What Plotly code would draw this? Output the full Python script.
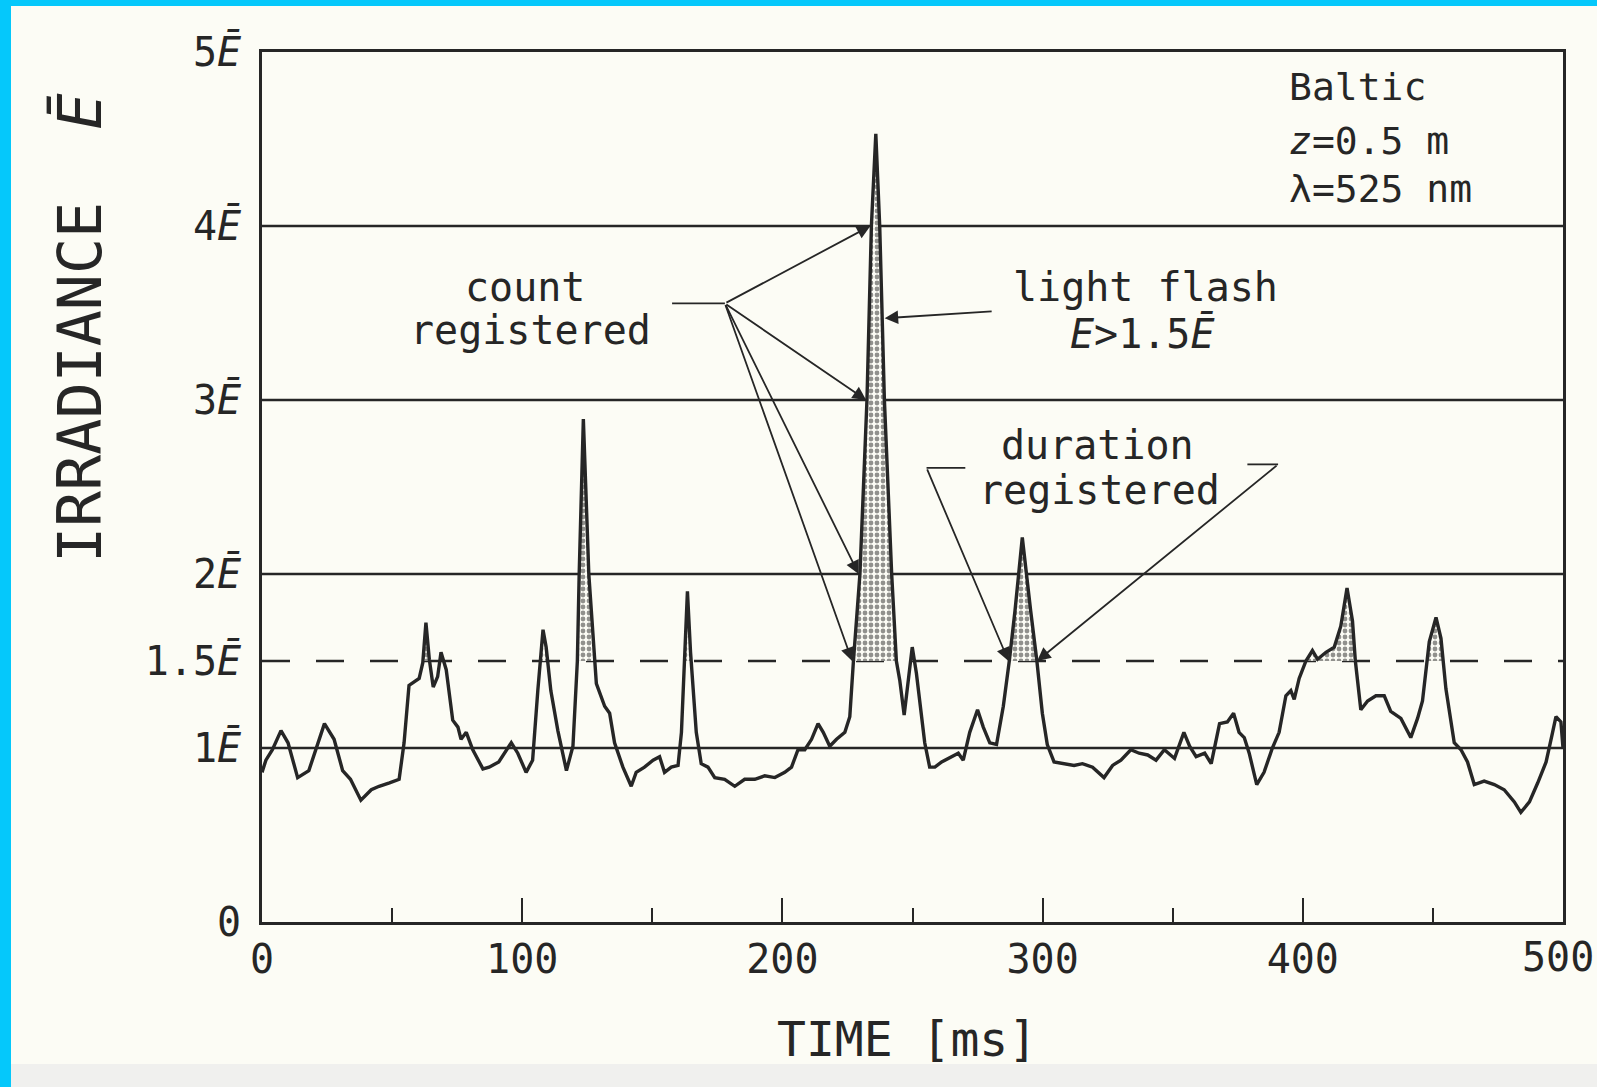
import numpy as np
import plotly.graph_objects as go

# Irradiance record (time in ms, irradiance in units of mean E)
time_ms = [0, 1.5, 4, 7.3, 10, 13.7, 18, 20.8, 24, 27.7, 31, 34, 38, 42, 45, 49, 52.7,
           54.6, 56.5, 60.4, 61.8, 63, 64.3, 65.8, 67.5, 68.8, 70.8, 73.3, 75.3, 76.5,
           78.5, 81, 84.9, 87.3, 91, 95.8, 98.3, 101.5, 104, 106, 108, 109.2, 111, 113.7,
           117, 119.5, 121.2, 121.9, 123.5, 125.6, 127.8, 128.5, 131.7, 133.6, 135.5,
           138.7, 141.9, 143.8, 147, 150.3, 152.8, 154.7, 157.3, 159.9, 161.2, 162.4,
           163.5, 164.7, 166.9, 168.8, 171.4, 174, 177.8, 181.7, 185.5, 189.4, 193.2,
           197.1, 200.9, 203.5, 206, 208.6, 211.2, 213.7, 215.7, 218.2, 220.8, 224,
           225.9, 227.3, 229.8, 232.5, 234.2, 235.9, 237.4, 239.2, 242, 243.8, 245.1,
           246.8, 248.3, 249.9, 251.5, 254.7, 256.6, 258.6, 261.2, 265, 267.6, 269.5,
           272, 275, 277.2, 279.7, 282.3, 284.9, 287.2, 289.4, 292.2, 295.4, 297.8,
           299.9, 301.8, 304.4, 308.2, 312.1, 315.3, 319.2, 323.6, 326.9, 330.1, 333.9,
           337.1, 340.4, 343.6, 346.8, 350.7, 354.3, 356.5, 359, 362.3, 364.8, 368, 371,
           373.4, 375.5, 377.5, 379.4, 382.3, 385.1, 388.3, 390.9, 393.5, 395.4, 396.7,
           398.6, 401.2, 403.7, 405.7, 408.9, 412.1, 414.6, 417, 419.1, 420.2, 421.1,
           422.3, 424.9, 428.1, 431.3, 433.8, 437.7, 441.5, 444.1, 446, 448.6, 451.2,
           453.1, 455, 458.2, 460.8, 463.3, 465.9, 469.7, 473.6, 477.4, 481.3, 483.8,
           487.1, 490.3, 493.5, 496, 497.3, 499.2, 500]
irradiance = [0.86, 0.93, 0.99, 1.10, 1.03, 0.83, 0.87, 0.99, 1.14, 1.05, 0.87, 0.82, 0.70,
              0.76, 0.78, 0.80, 0.82, 1.03, 1.36, 1.40, 1.49, 1.72, 1.51, 1.35, 1.41, 1.55,
              1.45, 1.16, 1.12, 1.05, 1.09, 0.99, 0.88, 0.89, 0.92, 1.03, 0.97, 0.86, 0.93,
              1.33, 1.68, 1.58, 1.33, 1.10, 0.87, 1.01, 1.5, 2.0, 2.89, 2.0, 1.5, 1.37, 1.24,
              1.20, 1.03, 0.89, 0.78, 0.86, 0.89, 0.93, 0.95, 0.86, 0.89, 0.90, 1.09, 1.55,
              1.90, 1.55, 1.09, 0.91, 0.89, 0.83, 0.82, 0.78, 0.82, 0.82, 0.84, 0.83, 0.86,
              0.89, 0.99, 0.99, 1.05, 1.14, 1.09, 1.01, 1.05, 1.09, 1.18, 1.5, 2.0, 3.0, 4.0,
              4.53, 4.0, 3.0, 2.0, 1.5, 1.39, 1.19, 1.39, 1.58, 1.43, 1.03, 0.89, 0.89, 0.92,
              0.95, 0.97, 0.93, 1.09, 1.22, 1.12, 1.03, 1.02, 1.24, 1.5, 1.79, 2.21, 1.79,
              1.5, 1.20, 1.02, 0.92, 0.91, 0.90, 0.91, 0.89, 0.83, 0.90, 0.93, 0.99, 0.97,
              0.96, 0.93, 0.99, 0.94, 1.09, 1.01, 0.95, 0.97, 0.91, 1.14, 1.15, 1.20, 1.09,
              1.06, 0.97, 0.79, 0.86, 1.0, 1.09, 1.30, 1.33, 1.28, 1.40, 1.50, 1.56, 1.51,
              1.55, 1.58, 1.70, 1.92, 1.73, 1.50, 1.36, 1.22, 1.27, 1.30, 1.30, 1.21, 1.17,
              1.06, 1.17, 1.27, 1.61, 1.75, 1.63, 1.34, 1.03, 0.99, 0.92, 0.79, 0.81, 0.79,
              0.76, 0.69, 0.63, 0.69, 0.80, 0.92, 1.09, 1.18, 1.15, 1.0]

flash_threshold = 1.5
reference_levels = [1, 2, 3, 4]
ytick_vals = [0, 1, 1.5, 2, 3, 4, 5]
ytick_text = ["0", "1<i>Ē</i>", "1.5<i>Ē</i>", "2<i>Ē</i>", "3<i>Ē</i>", "4<i>Ē</i>", "5<i>Ē</i>"]
xtick_vals = [0, 100, 200, 300, 400, 500]
xtick_text = ["0", "100", "200", "300", "400", "500"]
xminor_vals = [50, 150, 250, 350, 450]

INK = "#262626"
PAPER = "#fcfcf5"
FONT = "DejaVu Sans Mono"

# Add the exact threshold crossings so the flash areas start and end on the dashed line
t = np.array(time_ms, dtype=float)
e = np.array(irradiance, dtype=float)
tt, ee = [t[0]], [e[0]]
for i in range(len(t) - 1):
    a, b = e[i] - flash_threshold, e[i + 1] - flash_threshold
    if a * b < 0:
        tt.append(t[i] + (t[i + 1] - t[i]) * a / (a - b))
        ee.append(flash_threshold)
    tt.append(t[i + 1])
    ee.append(e[i + 1])
tt = np.array(tt)
flash = np.maximum(np.array(ee), flash_threshold)

fig = go.Figure()
fig.add_trace(go.Scatter(x=tt, y=np.full_like(tt, flash_threshold), mode="lines",
                         line=dict(width=0), hoverinfo="skip", showlegend=False))
fig.add_trace(go.Scatter(x=tt, y=flash, mode="lines", fill="tonexty",
                         line=dict(width=0, color=INK),
                         fillpattern=dict(shape=".", fgcolor=INK, bgcolor=PAPER,
                                          size=6, solidity=0.5),
                         hoverinfo="skip", showlegend=False))
fig.add_trace(go.Scatter(x=time_ms, y=irradiance, mode="lines",
                         line=dict(color=INK, width=3.4), showlegend=False))

# page: cyan frame, cream sheet, grey strip at the bottom
W, H = 1597, 1087
L, R, T, B = 262, 34, 52, 165
pw, ph = W - L - R, H - T - B


def px(x):
    return (x - L) / pw


def py(y):
    return (H - B - y) / ph


shapes = [
    dict(type="rect", xref="paper", yref="paper", x0=px(11), x1=px(W + 5), y0=py(6), y1=py(H + 5),
         fillcolor=PAPER, line=dict(width=0), layer="below"),
    dict(type="rect", xref="paper", yref="paper", x0=px(11), x1=px(W + 5), y0=py(1064), y1=py(H + 5),
         fillcolor="#f0f0ee", line=dict(width=0), layer="below"),
]
for lv in reference_levels:
    shapes.append(dict(type="line", xref="x", yref="y", x0=0, x1=500, y0=lv, y1=lv,
                       line=dict(color=INK, width=2.6), layer="below"))
shapes.append(dict(type="line", xref="x", yref="y", x0=0, x1=500, y0=flash_threshold,
                   y1=flash_threshold, line=dict(color=INK, width=2.6, dash="28px,26px"),
                   layer="below"))
# leader lines of the callouts
shapes += [
    dict(type="line", xref="x", yref="y", x0=157.6, x1=177.9, y0=3.555, y1=3.555,
         line=dict(color=INK, width=1.8)),
    dict(type="line", xref="x", yref="y", x0=255.4, x1=270.3, y0=2.61, y1=2.61,
         line=dict(color=INK, width=1.8)),
    dict(type="line", xref="x", yref="y", x0=378.7, x1=390.5, y0=2.63, y1=2.63,
         line=dict(color=INK, width=1.8)),
]

ann = []


def label(x, y, text, size=40, xanchor="center"):
    ann.append(dict(x=x, y=y, xref="x", yref="y", text=text, showarrow=False,
                    xanchor=xanchor, yanchor="middle",
                    font=dict(family=FONT, size=size, color=INK)))


def arrow(x, y, ax, ay):
    ann.append(dict(x=x, y=y, ax=ax, ay=ay, xref="x", yref="y", axref="x", ayref="y",
                    text="", showarrow=True, arrowhead=2, arrowsize=1.5, arrowwidth=1.8,
                    arrowcolor=INK, standoff=0))


label(100.9, 3.65, "count")
label(103.2, 3.40, "registered")
for tip in [(233.8, 4.0), (232.2, 3.0), (229.3, 2.0), (226.8, 1.5)]:
    arrow(tip[0], tip[1], 177.9, 3.555)

label(339.6, 3.65, "light flash")
label(338.2, 3.38, "<i>E</i>&gt;1.5<i>Ē</i>")
arrow(239.3, 3.47, 281, 3.51)

label(321.2, 2.74, "duration")
label(322.0, 2.48, "registered")
arrow(286.9, 1.5, 255.4, 2.61)
arrow(297.9, 1.5, 390.5, 2.63)

label(393.9, 4.80, "Baltic", size=38, xanchor="left")
label(393.9, 4.49, "<i>z</i>=0.5 m", size=38, xanchor="left")
label(393.9, 4.21, "λ=525 nm", size=38, xanchor="left")

# the last time label sits at the sheet edge, so it is placed by hand
ann.append(dict(x=xtick_vals[-1], y=py(957), xref="x", yref="paper", text=xtick_text[-1],
                showarrow=False, xanchor="center", yanchor="middle", xshift=-5,
                font=dict(family=FONT, size=40, color=INK)))
axis_ticktext = xtick_text[:-1] + [""]

# axis titles
ann.append(dict(x=px(80), y=py(328), xref="paper", yref="paper", textangle=-90,
                text="IRRADIANCE\u00a0\u00a0<i>Ē</i>", showarrow=False,
                xanchor="center", yanchor="middle",
                font=dict(family=FONT, size=60, color=INK)))
ann.append(dict(x=px(907), y=py(1039), xref="paper", yref="paper",
                text="TIME [ms]", showarrow=False, xanchor="center", yanchor="middle",
                font=dict(family=FONT, size=48, color=INK)))

fig.update_layout(
    width=W, height=H,
    margin=dict(l=L, r=R, t=T, b=B, autoexpand=False),
    paper_bgcolor="#05c8fb",
    plot_bgcolor="rgba(0,0,0,0)",
    shapes=shapes,
    annotations=ann,
    showlegend=False,
    xaxis=dict(range=[0, 500], showgrid=False, zeroline=False, showline=True, mirror=True,
               linecolor=INK, linewidth=2.6, ticks="inside", ticklen=24, tickwidth=2.2,
               tickcolor=INK, tickvals=xtick_vals, ticktext=axis_ticktext,
               ticklabelstandoff=0,
               tickfont=dict(family=FONT, size=40, color=INK),
               minor=dict(tickvals=xminor_vals, ticks="inside", ticklen=14, tickwidth=2.2,
                          tickcolor=INK, showgrid=False)),
    yaxis=dict(range=[0, 5], showgrid=False, zeroline=False, showline=True, mirror=True,
               linecolor=INK, linewidth=2.6, ticks="", tickvals=ytick_vals,
               ticktext=ytick_text, ticklabelstandoff=10,
               tickfont=dict(family=FONT, size=40, color=INK)),
)

fig.write_html("out.html")
